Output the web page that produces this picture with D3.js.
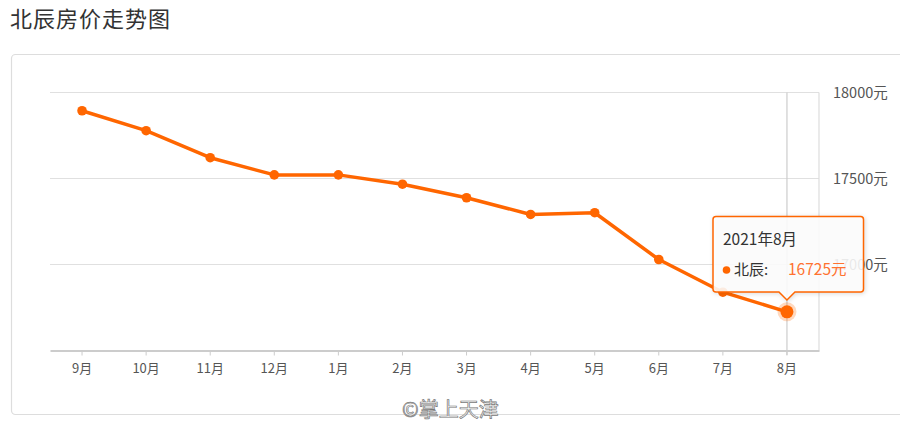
<!DOCTYPE html>
<html><head><meta charset="utf-8">
<script src="https://cdn.jsdelivr.net/npm/d3@7/dist/d3.min.js"></script>
<style>
html,body{margin:0;padding:0;background:#fff;}
svg{display:block;font-family:"Noto Sans CJK SC","Noto Sans",sans-serif;}
</style></head>
<body><svg id="c" width="900" height="425"></svg>
<script>
const title = "北辰房价走势图";
const months = ["9月","10月","11月","12月","1月","2月","3月","4月","5月","6月","7月","8月"];
const prices = [17894, 17778, 17621, 17521, 17521, 17467, 17388, 17291, 17301, 17029, 16839, 16725];
const yTicks = [16500, 17000, 17500, 18000];
const seriesName = "北辰";
const tipTitle = "2021年8月";
const watermark = "©掌上天津";
const highlight = 11;

const svg = d3.select("#c");
const orange = "#ff6600";

svg.append("text").attr("x", 10).attr("y", 27).attr("font-size", 22).attr("letter-spacing", 1)
  .attr("fill", "#333").text(title);

svg.append("rect").attr("x", 11.5).attr("y", 54.5).attr("width", 900).attr("height", 360)
  .attr("rx", 4).attr("fill", "#fff").attr("stroke", "#ddd").attr("stroke-width", 1.2);

const x = d3.scaleBand().domain(months).range([50, 819]);
const y = d3.scaleLinear().domain([16500, 18000]).range([350.5, 92.5]);
const cx = d => x(d) + x.bandwidth() / 2;

// grid lines
svg.append("g").selectAll("line").data(yTicks.filter(t => t > 16500)).join("line")
  .attr("x1", 50).attr("x2", 819).attr("y1", d => y(d)).attr("y2", d => y(d))
  .attr("stroke", "#e0e0e0").attr("stroke-width", 1.2);

// right border
svg.append("line").attr("x1", 819).attr("x2", 819).attr("y1", y(18000)).attr("y2", y(16500))
  .attr("stroke", "#ddd").attr("stroke-width", 1.2);

// crosshair
svg.append("line").attr("x1", cx(months[highlight])).attr("x2", cx(months[highlight]))
  .attr("y1", y(18000)).attr("y2", 355).attr("stroke", "#ccc").attr("stroke-width", 1.2);

// x axis
const xAxis = d3.axisBottom(x).tickSize(5).tickSizeOuter(0).tickPadding(8);
const gx = svg.append("g").attr("transform", `translate(0,${y(16500)})`).call(xAxis);
gx.select(".domain").attr("stroke", "#ccc").attr("stroke-width", 2);
gx.selectAll(".tick line").attr("stroke", "#ccc");
gx.selectAll(".tick text").attr("fill", "#555").attr("font-size", 13).attr("font-family", "'Noto Sans CJK SC',sans-serif");

// right y labels
const yAxis = d3.axisRight(y).tickValues(yTicks.filter(t => t > 16500)).tickSize(0).tickPadding(14).tickFormat(d => d + "元");
const gy = svg.append("g").attr("transform", "translate(819,0)").call(yAxis);
gy.select(".domain").remove();
gy.selectAll(".tick text").attr("fill", "#555").attr("font-size", 14.5).attr("font-family", "'Noto Sans CJK SC',sans-serif");

// line
const line = d3.line().x((d, i) => cx(months[i])).y(d => y(d));
svg.append("path").datum(prices).attr("d", line).attr("fill", "none")
  .attr("stroke", orange).attr("stroke-width", 3.5).attr("stroke-linejoin", "round");

svg.append("g").selectAll("circle").data(prices).join("circle")
  .attr("cx", (d, i) => cx(months[i])).attr("cy", d => y(d)).attr("r", 4.8).attr("fill", orange);

// highlight
const hx = cx(months[highlight]), hy = y(prices[highlight]);
svg.append("circle").attr("cx", hx).attr("cy", hy).attr("r", 9.5).attr("fill", orange).attr("opacity", 0.25);
svg.append("circle").attr("cx", hx).attr("cy", hy).attr("r", 6.5).attr("fill", orange);

// tooltip
const tl = 713, tt = 216.5, tr = 863.5, tb = 292, ah = 8;
const tp = `M${tl+3},${tt} H${tr-3} Q${tr},${tt} ${tr},${tt+3} V${tb-3} Q${tr},${tb} ${tr-3},${tb} H${hx+8} L${hx},${tb+ah} L${hx-8},${tb} H${tl+3} Q${tl},${tb} ${tl},${tb-3} V${tt+3} Q${tl},${tt} ${tl+3},${tt} Z`;
svg.append("path").attr("d", tp).attr("fill", "rgba(255,255,255,0.88)").attr("stroke", orange).attr("stroke-width", 1.5)
  .style("filter", "drop-shadow(1px 1px 2px rgba(0,0,0,0.15))");
svg.append("text").attr("x", 723).attr("y", 245).attr("font-size", 15.5).attr("fill", "#333").text(tipTitle);
svg.append("circle").attr("cx", 726.5).attr("cy", 270).attr("r", 3.8).attr("fill", orange);
svg.append("text").attr("x", 734).attr("y", 275).attr("font-size", 15).attr("fill", "#333").text(seriesName + ":");
svg.append("text").attr("x", 788).attr("y", 275).attr("font-size", 15.5).attr("fill", "#ff7230").text(prices[highlight] + "元");

// watermark
svg.append("text").attr("x", 402).attr("y", 417).attr("font-size", 20).attr("fill", "#f4f4f4")
  .attr("stroke", "#777").attr("stroke-width", 0.7).text(watermark);
</script></body></html>
